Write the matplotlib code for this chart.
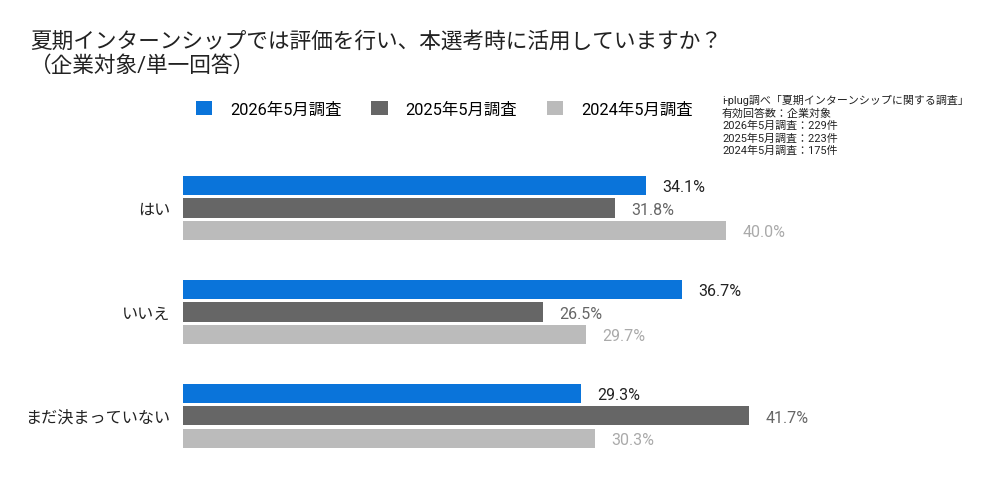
import matplotlib.pyplot as plt
from matplotlib.patches import Patch

plt.rcParams['font.family'] = ['Roboto', 'Noto Sans CJK JP', 'DejaVu Sans']

categories = ["はい", "いいえ", "まだ決まっていない"]
series_names = ["2026年5月調査", "2025年5月調査", "2024年5月調査"]
values_2026 = [34.1, 36.7, 29.3]
values_2025 = [31.8, 26.5, 41.7]
values_2024 = [40.0, 29.7, 30.3]

bar_colors = ["#0a74da", "#666666", "#bbbbbb"]
label_colors = ["#222222", "#666666", "#aaaaaa"]

fig = plt.figure(figsize=(10, 4.81), dpi=100)
ax = fig.add_axes([0.183, 0.025, 0.815, 0.6486])

series = [values_2026, values_2025, values_2024]
offsets = [-0.216, 0.0, 0.216]
for vals, off, bc, lc in zip(series, offsets, bar_colors, label_colors):
    ys = [i + off for i in range(len(categories))]
    ax.barh(ys, vals, height=0.183, color=bc)
    for y, v in zip(ys, vals):
        ax.text(v + 1.2, y + 0.01, f"{v:.1f}%", va="center", ha="left",
                fontsize=11.5, color=lc)

ax.set_xlim(0, 60)
ax.set_ylim(2.5, -0.5)
ax.set_yticks(range(len(categories)))
ax.set_yticklabels(categories, fontsize=11.6, color="#222222")
ax.tick_params(axis="y", length=0, pad=9)
ax.set_xticks([])
for s in ax.spines.values():
    s.set_visible(False)

fig.text(0.03, 0.935, "夏期インターンシップでは評価を行い、本選考時に活用していますか？\n（企業対象/単一回答）",
         fontsize=15.6, color="#222222", va="top", ha="left", linespacing=1.2)

handles = [Patch(facecolor=c, edgecolor="none") for c in bar_colors]
fig.legend(handles, series_names, loc="center left", bbox_to_anchor=(0.181, 0.772),
           ncol=3, frameon=False, fontsize=11.8, handlelength=1.0, handleheight=1.0,
           columnspacing=1.8, handletextpad=1.1)

note = ("i-plug調べ「夏期インターンシップに関する調査」\n有効回答数：企業対象\n"
        "2026年5月調査：229件\n2025年5月調査：223件\n2024年5月調査：175件")
fig.text(0.722, 0.802, note, fontsize=7.9, color="#222222", va="top", ha="left",
         linespacing=1.25)

fig.savefig("out.png", dpi=100, facecolor="white")
